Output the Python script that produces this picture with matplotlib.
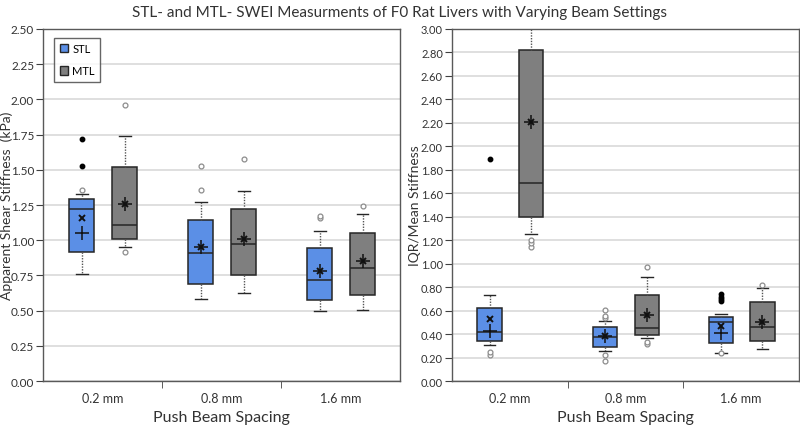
import numpy as np
import matplotlib
matplotlib.use('Agg')
import matplotlib.pyplot as plt
from matplotlib.patches import Patch

plt.rcParams['font.family'] = ['Lato', 'DejaVu Sans']

categories = ['0.2 mm', '0.8 mm', '1.6 mm']
groups = ['STL', 'MTL']

# left panel: apparent shear stiffness (kPa); [STL, MTL] x [0.2, 0.8, 1.6 mm]
shear_q1 = [[0.92, 0.69, 0.575], [1.01, 0.75, 0.61]]
shear_med = [[1.22, 0.91, 0.715], [1.105, 0.975, 0.80]]
shear_q3 = [[1.29, 1.145, 0.945], [1.52, 1.22, 1.055]]
shear_wlo = [[0.76, 0.58, 0.50], [0.95, 0.625, 0.505]]
shear_whi = [[1.33, 1.27, 1.065], [1.74, 1.35, 1.185]]
shear_xmark = [[1.16, 0.955, 0.78], [1.26, 1.01, 0.855]]
shear_plus = [[1.05, 0.955, 0.78], [1.26, 1.01, 0.855]]
shear_open = [[[1.36], [1.36, 1.525], [1.16, 1.175]], [[0.915, 1.96], [1.575], [1.24]]]
shear_filled = [[[1.525, 1.72], [], []], [[], [], []]]

# right panel: IQR/mean stiffness
iqr_q1 = [[0.345, 0.295, 0.325], [1.40, 0.395, 0.34]]
iqr_med = [[0.415, 0.38, 0.50], [1.69, 0.45, 0.465]]
iqr_q3 = [[0.62, 0.465, 0.545], [2.82, 0.735, 0.675]]
iqr_wlo = [[0.305, 0.255, 0.24], [1.25, 0.37, 0.275]]
iqr_whi = [[0.735, 0.515, 0.575], [3.40, 0.885, 0.79]]
iqr_xmark = [[0.53, 0.385, 0.47], [2.21, 0.56, 0.505]]
iqr_plus = [[0.43, 0.385, 0.41], [2.21, 0.56, 0.505]]
iqr_open = [[[0.22, 0.245], [0.175, 0.225, 0.535, 0.555, 0.61], [0.24]],
            [[1.14, 1.18, 1.205], [0.315, 0.335, 0.97], [0.815]]]
iqr_filled = [[[1.89], [], [0.68, 0.70, 0.72, 0.74]], [[], [], []]]

colors = ['#5b8fe6', '#7f7f7f']
offsets = [-0.175, 0.185]
edge = '#262626'
txt = '#333333'

fig = plt.figure(figsize=(8, 4.27), dpi=100)
ax1 = fig.add_axes([0.054, 0.105, 0.446, 0.825])
ax2 = fig.add_axes([0.565, 0.105, 0.4335, 0.825])


def draw(ax, q1, med, q3, wlo, whi, xm, pl, opn, fil):
    for g in range(2):
        stats = []
        for i in range(3):
            stats.append(dict(q1=q1[g][i], med=med[g][i], q3=q3[g][i],
                              whislo=wlo[g][i], whishi=whi[g][i], fliers=[]))
        pos = np.arange(3) + offsets[g]
        ax.bxp(stats, positions=pos, widths=0.21, patch_artist=True,
               showfliers=False, manage_ticks=False,
               boxprops=dict(facecolor=colors[g], edgecolor=edge, linewidth=1.1),
               medianprops=dict(color=edge, linewidth=1.1),
               whiskerprops=dict(color='#555555', linewidth=1.0, linestyle=(0, (1, 1))),
               capprops=dict(color=edge, linewidth=1.0), capwidths=0.1)
        for i in range(3):
            p = pos[i]
            if opn[g][i]:
                ax.plot([p] * len(opn[g][i]), opn[g][i], 'o', ms=3.5, mfc='white',
                        mec='#8c8c8c', mew=0.9, zorder=4)
            if fil[g][i]:
                ax.plot([p] * len(fil[g][i]), fil[g][i], 'o', ms=3.2, color='black', zorder=4)
        ax.plot(pos, xm[g], 'x', ms=5, mew=1.4, color='#111111', zorder=5)
        ax.plot(pos, pl[g], '+', ms=10, mew=1.1, color='#111111', zorder=5)

    ax.set_xlim(-0.5, 2.5)
    ax.set_xticks([0, 1, 2])
    ax.set_xticklabels(categories, fontsize=9, color=txt)
    ax.set_xticks([0.5, 1.5], minor=True)
    ax.tick_params(axis='x', which='major', length=0, pad=8)
    ax.tick_params(axis='x', which='minor', length=5, color='#404040')
    ax.tick_params(axis='y', length=5, color='#404040', labelcolor=txt, pad=1.5)
    ax.grid(axis='y', color='#d9d9d9', linewidth=1.2)
    ax.set_axisbelow(True)
    for s in ax.spines.values():
        s.set_color('#595959')
        s.set_linewidth(1.0)
    ax.set_xlabel('Push Beam Spacing', fontsize=11.5, color=txt)
    ax.xaxis.set_label_coords(0.5, -0.102)
    ax.xaxis.label.set_va('center')


draw(ax1, shear_q1, shear_med, shear_q3, shear_wlo, shear_whi,
     shear_xmark, shear_plus, shear_open, shear_filled)
ax1.set_ylim(0, 2.5)
ax1.set_yticks(np.arange(0, 2.51, 0.25))
ax1.set_yticklabels(['%.2f' % v for v in np.arange(0, 2.51, 0.25)])
ax1.tick_params(axis='y', labelsize=8.5)
ax1.set_ylabel('Apparent Shear Stiffness  (kPa)', fontsize=10, color=txt, va='center')
ax1.yaxis.set_label_coords(-0.102, 0.5)

draw(ax2, iqr_q1, iqr_med, iqr_q3, iqr_wlo, iqr_whi,
     iqr_xmark, iqr_plus, iqr_open, iqr_filled)
ax2.set_ylim(0, 3.0)
ax2.set_yticks(np.arange(0, 3.01, 0.2))
ax2.set_yticklabels(['%.2f' % v for v in np.arange(0, 3.01, 0.2)])
ax2.tick_params(axis='y', labelsize=8)
ax2.set_ylabel('IQR/Mean Stiffness', fontsize=10, color=txt, va='center')
ax2.yaxis.set_label_coords(-0.108, 0.5)

handles = [Patch(facecolor=colors[g], edgecolor=edge, label=groups[g]) for g in range(2)]
leg = ax1.legend(handles=handles, loc='upper left', bbox_to_anchor=(0.022, 0.985),
                 fontsize=8, fancybox=False, edgecolor='#404040', handlelength=0.7,
                 handleheight=0.8, handletextpad=0.4, borderpad=0.5, labelspacing=1.0,
                 borderaxespad=0.3)
leg.get_frame().set_linewidth(1.0)

fig.suptitle('STL- and MTL- SWEI Measurments of F0 Rat Livers with Varying Beam Settings',
             fontsize=11, color=txt, y=0.985)

fig.savefig('out.png', dpi=100)
